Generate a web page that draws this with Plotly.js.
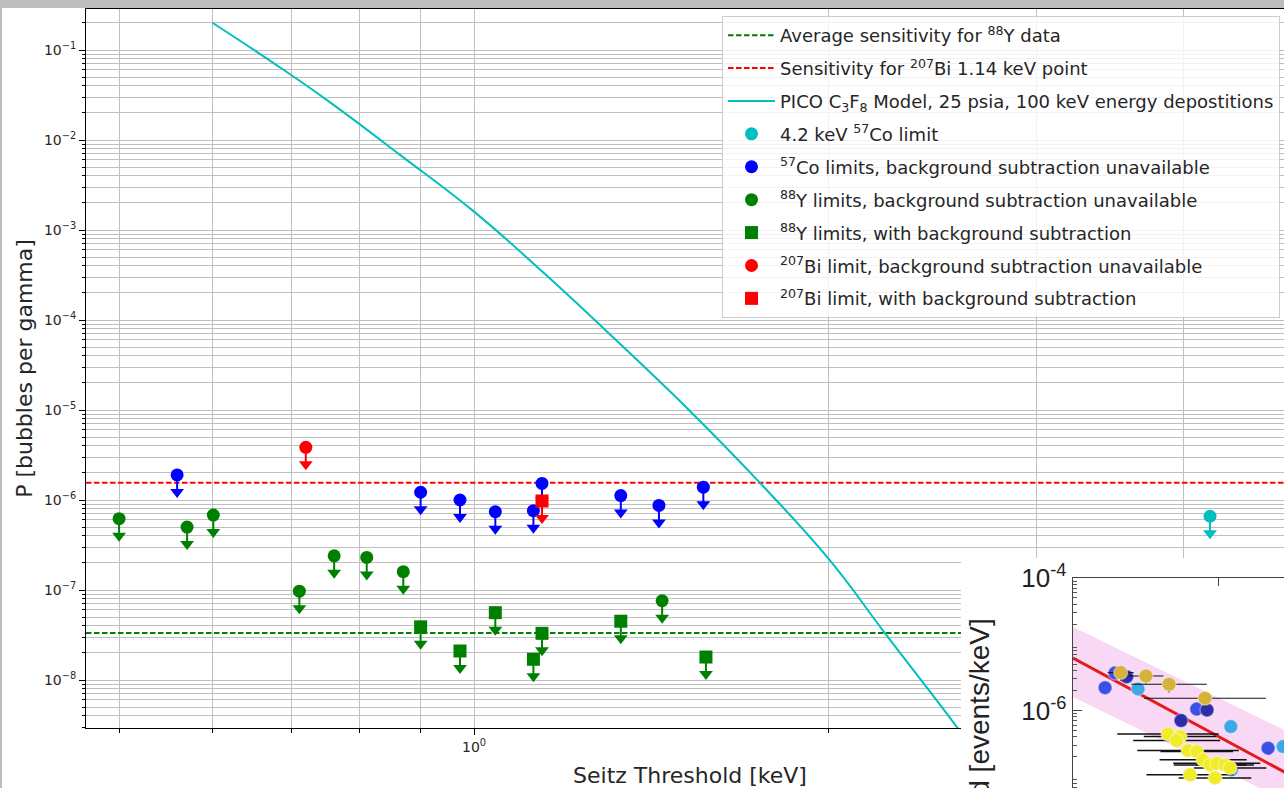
<!DOCTYPE html>
<html><head><meta charset="utf-8">
<script src="https://cdn.plot.ly/plotly-3.0.1.min.js"></script>
<style>
html,body{margin:0;padding:0;width:1284px;height:788px;overflow:hidden;background:#bdbdbd;}
#main{position:absolute;left:2px;top:8px;width:1300px;height:780px;}
#inset{position:absolute;left:961px;top:558px;width:400px;height:300px;}
</style></head><body>
<div id="main"></div><div id="inset"></div>
<script>
// ---------- main chart data ----------
const co57X = [0.560, 0.901, 0.973, 1.0425, 1.123, 1.142, 1.332, 1.435, 1.565];
const co57Y = [1.90e-6, 1.22e-6, 1.00e-6, 7.4e-7, 7.6e-7, 1.53e-6, 1.12e-6, 8.7e-7, 1.39e-6];
const y88NoBgX = [0.500, 0.571, 0.601, 0.711, 0.761, 0.811, 0.871, 1.444];
const y88NoBgY = [6.2e-7, 5.0e-7, 6.8e-7, 9.7e-8, 2.4e-7, 2.3e-7, 1.6e-7, 7.6e-8];
const y88BgX = [0.901, 0.973, 1.0425, 1.123, 1.142, 1.332, 1.573];
const y88BgY = [3.9e-8, 2.1e-8, 5.6e-8, 1.7e-8, 3.3e-8, 4.5e-8, 1.8e-8];
const bi207NoBgX = [0.720];
const bi207NoBgY = [3.85e-6];
const bi207BgX = [1.142];
const bi207BgY = [9.75e-7];
const co57_42X = [4.21];
const co57_42Y = [6.6e-7];
const avgSens88Y = 3.33e-8;
const sens207Bi = 1.55e-6;
const modelX = [0.600, 0.680, 0.755, 0.866, 1.000, 1.150, 1.314, 1.525, 1.748, 2.000, 2.232, 2.573, 2.850];
const modelY = [0.201, 0.068, 0.0262, 6.8e-3, 1.6e-3, 3.2e-4, 6.3e-5, 9.7e-6, 1.55e-6, 2.2e-7, 3.3e-8, 2.9e-9, 4.5e-10];
const yTickVals = [1e-8, 1e-7, 1e-6, 1e-5, 1e-4, 1e-3, 1e-2, 1e-1];
const yTickText = ['10<sup>−8</sup>','10<sup>−7</sup>','10<sup>−6</sup>','10<sup>−5</sup>','10<sup>−4</sup>','10<sup>−3</sup>','10<sup>−2</sup>','10<sup>−1</sup>'];
const xTickVals = [1];
const xTickText = ['10<sup>0</sup>'];

// ---------- inset data ----------
const insBlueX = [2.21, 2.90, 8.53, 13.45];
const insBlueY = [2.21e-6, 3.69e-6, 1.05e-6, 2.70e-7];
const insDarkX = [3.70, 9.24, 7.45];
const insDarkY = [3.24e-6, 1.02e-6, 7.05e-7];
const insLightX = [4.48, 10.88, 14.48, 10.94];
const insLightY = [2.12e-6, 5.71e-7, 2.85e-7, 1.27e-7];
const insGoldX = [3.29, 5.03, 6.62, 9.10];
const insGoldY = [3.73e-6, 3.32e-6, 2.49e-6, 1.53e-6];
const insGoldXerr = [0.9, 1.2, 2.6, 4.2];
const insYellowX = [6.55, 7.38, 7.15, 7.93, 8.53, 8.97, 9.45, 9.91, 10.48, 10.83, 8.07, 9.79];
const insYellowY = [4.43e-7, 4.04e-7, 3.51e-7, 2.48e-7, 2.40e-7, 1.80e-7, 1.51e-7, 1.60e-7, 1.51e-7, 1.36e-7, 1.07e-7, 9.6e-8];
const insYellowXerr = [3.5, 2.5, 3.0, 3.5, 2.5, 3.0, 2.5, 3.0, 2.0, 2.5, 3.0, 2.5];
const bandX = [0, 17];
const bandUpper = [1.82e-5, 2.79e-7];
const bandLower = [1.60e-6, 2.45e-8];
const fitX = [0, 17];
const fitY = [6.21e-6, 6.09e-8];

// ---------- helpers ----------
const ARROW = Math.pow(10, -17/90);
const XR = [-0.3291, 0.6955];
const YR = [-8.5333, -0.5444];
const minorX = [];
[0.1, 1].forEach(d => { for (let j = 2; j <= 9; j++) minorX.push(j*d); });
const minorY = [];
for (let k = -9; k <= -1; k++) for (let j = 2; j <= 9; j++) minorY.push(j*Math.pow(10,k));

function limitTraces(name, xs, ys, color, symbol, group) {
  return [
    {x: xs, y: ys, type: 'scatter', mode: 'markers', name: name, legendgroup: group,
     marker: {color: color, symbol: symbol, size: 13},
     error_y: {type: 'data', symmetric: false, array: ys.map(() => 0),
               arrayminus: ys.map(v => v - v*ARROW), color: color, thickness: 2, width: 0}},
    {x: xs, y: ys.map(v => v*ARROW), type: 'scatter', mode: 'markers', showlegend: false,
     legendgroup: group, hoverinfo: 'skip',
     marker: {color: color, symbol: 'triangle-down', size: 12}}
  ];
}
const xEnds = [Math.pow(10, XR[0]), Math.pow(10, XR[1])];

const data = [
  {x: xEnds, y: [avgSens88Y, avgSens88Y], type: 'scatter', mode: 'lines', legendgroup: 'g1',
   name: 'Average sensitivity for <sup>88</sup>Y data', line: {color: '#008000', width: 2, dash: '5.5px,2.5px'}},
  {x: xEnds, y: [sens207Bi, sens207Bi], type: 'scatter', mode: 'lines', legendgroup: 'g2',
   name: 'Sensitivity for <sup>207</sup>Bi 1.14 keV point', line: {color: '#ff0000', width: 2, dash: '5.5px,2.5px'}},
  {x: modelX, y: modelY, type: 'scatter', mode: 'lines', legendgroup: 'g3',
   name: 'PICO C<sub>3</sub>F<sub>8</sub> Model, 25 psia, 100 keV energy depostitions',
   line: {color: '#00bfbf', width: 2, shape: 'spline', smoothing: 1.2}},
  ...limitTraces('4.2 keV <sup>57</sup>Co limit', co57_42X, co57_42Y, '#00bfbf', 'circle', 'g4'),
  ...limitTraces('<sup>57</sup>Co limits, background subtraction unavailable', co57X, co57Y, '#0000ff', 'circle', 'g5'),
  ...limitTraces('<sup>88</sup>Y limits, background subtraction unavailable', y88NoBgX, y88NoBgY, '#008000', 'circle', 'g6'),
  ...limitTraces('<sup>88</sup>Y limits, with background subtraction', y88BgX, y88BgY, '#008000', 'square', 'g7'),
  ...limitTraces('<sup>207</sup>Bi limit, background subtraction unavailable', bi207NoBgX, bi207NoBgY, '#ff0000', 'circle', 'g8'),
  ...limitTraces('<sup>207</sup>Bi limit, with background subtraction', bi207BgX, bi207BgY, '#ff0000', 'square', 'g9')
];

const GRID = '#bfbfbf';
const layout = {
  width: 1300, height: 780,
  margin: {l: 84, r: 8, t: 1, b: 60},
  paper_bgcolor: '#ffffff', plot_bgcolor: '#ffffff',
  font: {family: 'DejaVu Sans', color: '#262626', size: 14},
  showlegend: true,
  legend: {x: 0.5265, y: 0.9903, xanchor: 'left', yanchor: 'top', traceorder: 'grouped',
           bgcolor: 'rgba(255,255,255,0.8)', bordercolor: '#cccccc', borderwidth: 1,
           itemwidth: 47, tracegroupgap: 6.5, font: {family: 'DejaVu Sans', size: 18, color: '#262626'}},
  xaxis: {type: 'log', range: XR, tickmode: 'array', tickvals: xTickVals, ticktext: xTickText,
          ticks: 'outside', ticklen: 6, tickwidth: 1, tickcolor: '#000',
          showline: true, linecolor: '#000', linewidth: 1, mirror: true,
          showgrid: true, gridcolor: GRID, gridwidth: 1, zeroline: false, automargin: false,
          tickfont: {size: 14},
          minor: {tickmode: 'array', tickvals: minorX, ticks: 'outside', ticklen: 3.5, tickcolor: '#000',
                  showgrid: true, gridcolor: GRID, gridwidth: 1},
          title: {text: 'Seitz Threshold [keV]', font: {size: 22}, standoff: 13}},
  yaxis: {type: 'log', range: YR, tickmode: 'array', tickvals: yTickVals, ticktext: yTickText,
          ticks: 'outside', ticklen: 6, tickwidth: 1, tickcolor: '#000',
          showline: true, linecolor: '#000', linewidth: 1, mirror: true,
          showgrid: true, gridcolor: GRID, gridwidth: 1, zeroline: false, automargin: false,
          tickfont: {size: 14},
          minor: {tickmode: 'array', tickvals: minorY, ticks: 'outside', ticklen: 3.5, tickcolor: '#000',
                  showgrid: true, gridcolor: GRID, gridwidth: 1},
          title: {text: 'P [bubbles per gamma]', font: {size: 22}, standoff: 5}}
};
Plotly.newPlot('main', data, layout, {displayModeBar: false, staticPlot: true});

// ---------- inset ----------
const insMinorY = [];
for (let k = -8; k <= -5; k++) for (let j = 2; j <= 9; j++) insMinorY.push(j*Math.pow(10,k));
function circ(xs, ys, color) {
  return {x: xs, y: ys, type: 'scatter', mode: 'markers',
          marker: {color: color, size: 14, line: {color: 'rgba(255,255,255,0.35)', width: 1.5}}};
}
const insData = [
  {x: bandX, y: bandLower, type: 'scatter', mode: 'lines', line: {width: 0}, hoverinfo: 'skip'},
  {x: bandX, y: bandUpper, type: 'scatter', mode: 'lines', line: {width: 0}, fill: 'tonexty',
   fillcolor: '#f8d8f4', hoverinfo: 'skip'},
  {x: fitX, y: fitY, type: 'scatter', mode: 'lines', line: {color: '#e21b1b', width: 3}},
  circ(insBlueX, insBlueY, '#3d4fe4'),
  circ(insDarkX, insDarkY, '#2b2ea8'),
  circ(insLightX, insLightY, '#3ea8e6'),
  {x: insGoldX, y: insGoldY, type: 'scatter', mode: 'markers',
   marker: {color: '#d5b23a', size: 14, line: {color: 'rgba(255,255,255,0.35)', width: 1.5}},
   error_x: {type: 'data', array: insGoldXerr, color: '#111', thickness: 1, width: 0},
   error_y: {type: 'percent', value: 25, color: '#111', thickness: 1, width: 0}},
  {x: insYellowX, y: insYellowY, type: 'scatter', mode: 'markers',
   marker: {color: '#f0ec2a', size: 14, line: {color: 'rgba(255,255,255,0.35)', width: 1.5}},
   error_x: {type: 'data', array: insYellowXerr, color: '#111', thickness: 1.5, width: 0},
   error_y: {type: 'percent', value: 12, color: '#111', thickness: 1, width: 0}}
];
const insLayout = {
  width: 400, height: 300,
  margin: {l: 112, r: 41, t: 20, b: 15},
  paper_bgcolor: '#ffffff', plot_bgcolor: '#ffffff',
  showlegend: false,
  font: {family: 'Liberation Sans', color: '#222', size: 25},
  xaxis: {type: 'linear', range: [0, 17.03], side: 'top', showticklabels: false,
          tickmode: 'array', tickvals: [10], ticks: 'inside', ticklen: 8, tickcolor: '#444',
          showline: true, linecolor: '#444', linewidth: 1.5, mirror: true,
          showgrid: false, zeroline: false},
  yaxis: {type: 'log', range: [-8, -4], tickmode: 'array', tickvals: [1e-6, 1e-4],
          ticktext: ['10<sup>-6</sup>', '10<sup>-4</sup>'], ticks: 'inside', ticklen: 9,
          tickcolor: '#444', showline: true, linecolor: '#444', linewidth: 1.5, mirror: true,
          showgrid: false, zeroline: false, tickfont: {size: 26},
          minor: {tickmode: 'array', tickvals: insMinorY, ticks: 'inside', ticklen: 4, tickcolor: '#555'}},
  annotations: [{xref: 'paper', yref: 'paper', x: -0.38, y: 0.853, xanchor: 'center', yanchor: 'top',
                 text: 'Background [events/keV]', textangle: -90, showarrow: false,
                 font: {family: 'Liberation Sans', size: 28, color: '#222'}}]
};
Plotly.newPlot('inset', insData, insLayout, {displayModeBar: false, staticPlot: true});
</script>
</body></html>
